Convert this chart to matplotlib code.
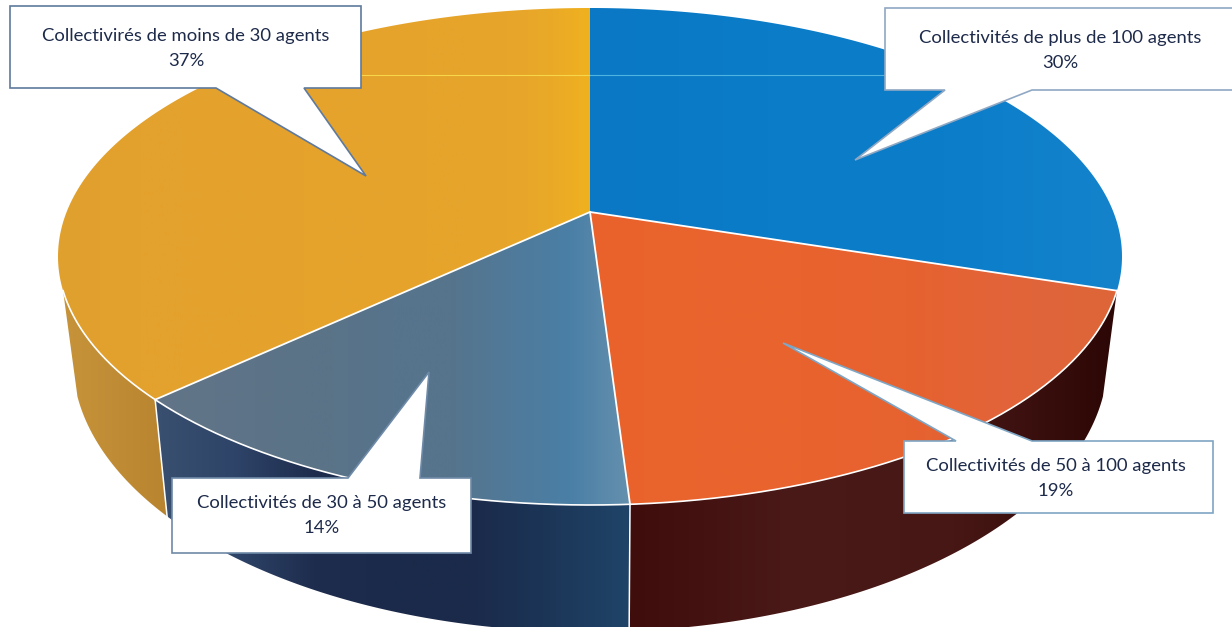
import numpy as np
import matplotlib
matplotlib.use('Agg')
import matplotlib.pyplot as plt
from matplotlib.colors import LinearSegmentedColormap
from matplotlib.patches import Polygon

categories = ['Collectivités de plus de 100 agents',
              'Collectivités de 50 à 100 agents',
              'Collectivités de 30 à 50 agents',
              'Collectivirés de moins de 30 agents']
values = [30, 19, 14, 37]
percent_labels = ['30%', '19%', '14%', '37%']

# colour stops running left to right over each slice
top_colors = [['#0b78c4', '#0a7cc8', '#0b7dc9', '#1483cc'],
              ['#e9622c', '#ea642e', '#e9632e', '#e6622f', '#e2643a', '#dd6638'],
              ['#627587', '#5f7487', '#5c7387', '#5a7388', '#56748c', '#56748c', '#507a9a', '#4a7fa6', '#6590ae'],
              ['#e0a02f', '#e2a12e', '#e3a12d', '#e4a22d', '#e4a22d', '#e4a22c', '#e5a32c', '#e5a32c',
               '#e5a32c', '#e6a42b', '#e6a42b', '#e7a52a', '#e9a928', '#f0b11f']]
side_colors = [None,
               ['#3f0d0b', '#4a1a18', '#471715', '#2c0705'],
               ['#3a5070', '#2e4468', '#1e2d4e', '#1b2a4a', '#1b2a4a', '#1c3658', '#1f4468'],
               ['#c7933a', '#b8842f']]

# callout box: left, right, top, bottom, tail base left/right, tail tip, text centre
callouts = [(885, 1240, 8, 90, 945, 1032, 855, 160, 1060, 38),
            (904, 1213, 441, 513, 956, 1032, 783, 343, 1056, 466),
            (172, 471, 478, 553, 348, 420, 429, 372, 322, 503),
            (10, 361, 6, 88, 216, 304, 366, 176, 186, 36)]
edge_colors = ['#8fa8c4', '#7fa6c4', '#6f8aa8', '#5f7a9c']

W, H = 1232, 627
CX, CY, RX, RY = 590, 256.5, 532, 248.5
APEX_Y = 212
tilt = (CY - APEX_Y) / RY


# clock angle on the flat disc -> point on the tilted top face
def top_point(angle, r=1.0):
    x = r * np.sin(angle)
    y = r * np.cos(angle)
    d = 1 + tilt * y
    return CX + RX * x * np.sqrt(1 - tilt ** 2) / d, CY - RY * (y + tilt) / d


# same point on the lower rim of the pie
def low_point(px, py):
    return 597 + 0.973 * (px - 597), 1.098 * py + 77.5


def gradient_fill(ax, verts, colors, zorder):
    cmap = LinearSegmentedColormap.from_list('fill', colors)
    xs = np.array(verts)[:, 0]
    grad = np.linspace(0, 1, 256).reshape(1, -1)
    im = ax.imshow(grad, cmap=cmap, aspect='auto', zorder=zorder,
                   extent=(xs.min(), xs.max(), H, 0))
    clip = Polygon(verts, closed=True, transform=ax.transData)
    im.set_clip_path(clip)


fig = plt.figure(figsize=(W / 100, H / 100), dpi=100, facecolor='white')
ax = fig.add_axes([0, 0, 1, 1])
ax.axis('off')

fractions = np.cumsum([0] + values) / sum(values)
angles = fractions * 2 * np.pi

# side walls first, only the part of the rim that faces front
front_to = np.radians(252)
for i in range(len(values)):
    if side_colors[i] is None:
        continue
    t = np.linspace(angles[i], min(angles[i + 1], front_to), 120)
    px, py = top_point(t)
    lx, ly = low_point(px, py)
    verts = np.column_stack([np.r_[px, lx[::-1]], np.r_[py, ly[::-1]]])
    gradient_fill(ax, verts, side_colors[i], 2)
    # white seam where two walls meet
    if i > 1:
        ax.plot([px[0], lx[0]], [py[0], ly[0]], color='white', lw=1.1, zorder=3)

# top faces
apex = top_point(0.0, 0.0)
for i in range(len(values)):
    t = np.linspace(angles[i], angles[i + 1], 200)
    px, py = top_point(t)
    verts = np.column_stack([np.r_[apex[0], px], np.r_[apex[1], py]])
    gradient_fill(ax, verts, top_colors[i], 4)

# white lines on the slice borders and front rim
for a in angles[1:-1]:
    px, py = top_point(a)
    ax.plot([apex[0], px], [apex[1], py], color='white', lw=1.3, zorder=5)
t = np.linspace(angles[1], front_to, 300)
px, py = top_point(t)
ax.plot(px, py, color='white', lw=1.2, zorder=5)

# faint scan line across the back of the pie
ax.plot([361, 590], [75, 75], color='#f7d64a', lw=0.8, zorder=6)
ax.plot([590, 885], [75, 75], color='#4fb4e0', lw=0.8, zorder=6)

for i, c in enumerate(callouts):
    left, right, top, bottom, base0, base1, tip_x, tip_y, text_x, text_y = c
    # tail leaves from whichever edge faces the tip
    if tip_y > bottom:
        outline = [(left, top), (right, top), (right, bottom), (base1, bottom),
                   (tip_x, tip_y), (base0, bottom), (left, bottom)]
    else:
        outline = [(left, top), (base0, top), (tip_x, tip_y), (base1, top),
                   (right, top), (right, bottom), (left, bottom)]
    ax.add_patch(Polygon(outline, closed=True, facecolor='white',
                         edgecolor=edge_colors[i], lw=1.2, zorder=7, joinstyle='miter'))
    ax.text(text_x, text_y, categories[i], ha='center', va='center', fontsize=13.3,
            family='Lato', color='#1d2a4a', zorder=8)
    ax.text(text_x, text_y + 25, percent_labels[i], ha='center', va='center', fontsize=13.3,
            family='Lato', color='#1d2a4a', zorder=8)

ax.set_xlim(0, W)
ax.set_ylim(H, 0)
fig.savefig('out.png', dpi=100)
